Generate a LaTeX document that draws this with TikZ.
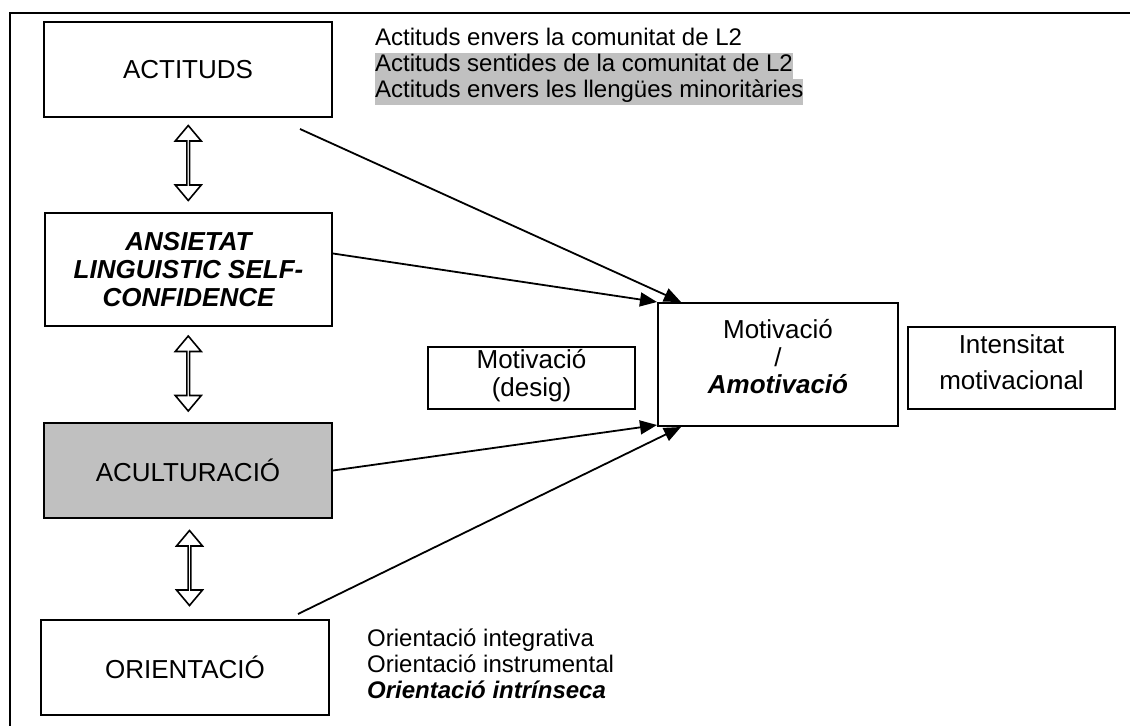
\documentclass[tikz,border=0pt]{standalone}
\usepackage{fontspec}
\setmainfont{Liberation Sans}
\usetikzlibrary{arrows.meta, shapes.arrows, calc}
\definecolor{boxgray}{RGB}{192,192,192}
\newcommand{\hlline}[1]{{\setlength{\fboxsep}{0pt}\colorbox{boxgray}{\strut #1}}}
\tikzstyle{box} = [draw, line width=2pt, align=center, inner sep=0pt, font=\fontsize{26}{29}\selectfont]
\tikzstyle{arrow} = [-{Triangle[length=17pt,width=14pt]}, line width=1.8pt]
\tikzstyle{updown} = [double arrow, draw, line width=1.6pt, rotate=90, minimum height=75pt, minimum width=26pt, double arrow head extend=6.5pt, double arrow tip angle=80, inner sep=0pt]
\tikzstyle{itemlist} = [anchor=north west, align=left, inner sep=0pt, font=\fontsize{24}{26}\selectfont]

\begin{document}
\begin{tikzpicture}[x=1pt, y=-1pt]
    \useasboundingbox (0,0) rectangle (1130,726);

    % Frame
    \draw[line width=1.6pt] (1130,13) -- (10,13) -- (10,726);

    % Left column
    \node[box, minimum width=288pt, minimum height=95pt] (act) at (188,69.5) {ACTITUDS};
    \node[box, minimum width=287pt, minimum height=113pt, font=\fontsize{26}{28}\selectfont\bfseries\itshape] (ans) at (188.5,269.5) {
        ANSIETAT\\
        LINGUISTIC SELF-\\
        CONFIDENCE
    };
    \node[box, fill=boxgray, minimum width=288pt, minimum height=95pt] (acu) at (188,470.5) {ACULTURACIÓ};
    \node[box, minimum width=288pt, minimum height=95pt] (ori) at (185,667.5) {ORIENTACIÓ};

    % Double arrows between the boxes
    \node[updown] (da1) at ($(act.south)!0.5!(ans.north)+(0,-2)$) {};
    \node[updown] (da2) at ($(ans.south)!0.5!(acu.north)+(0,-1)$) {};
    \node[updown] (da3) at ($(acu.south)!0.5!(ori.north)+(3,-1)$) {};

    % Lists
    \node[itemlist] (actlist) at (375,27) {
        \strut Actituds envers la comunitat de L2\\
        \hlline{Actituds sentides de la comunitat de L2}\\
        \hlline{Actituds envers les llengües minoritàries}
    };
    \node[itemlist] (orilist) at (367,628) {
        \strut Orientació integrativa\\
        \strut Orientació instrumental\\
        \strut\textbf{\textit{Orientació intrínseca}}
    };

    % Motivation boxes
    \node[box, minimum width=207pt, minimum height=62pt, font=\fontsize{26}{30}\selectfont] (desig) at (531.5,378) {Motivació\\[-2pt](desig)\\[-20pt]};
    \node[box, minimum width=240pt, minimum height=123pt, font=\fontsize{26}{27.5}\selectfont] (mot) at (778,364.5) {
        Motivació\\
        /\\
        \textbf{\textit{Amotivació}}\\[-12pt]
    };
    \node[box, minimum width=207pt, minimum height=82pt, font=\fontsize{26}{36}\selectfont] (ints) at (1011.5,367.5) {Intensitat\\motivacional\\[-26pt]};

    % Connectors
    \draw[arrow] ([xshift=112pt,yshift=-11pt]act.south) -- ([xshift=24pt]mot.north west);
    \draw[arrow] ([yshift=16pt]ans.east) -- (mot.north west);
    \draw[arrow] (acu.east) -- ([yshift=2pt]mot.south west);
    \draw[arrow] ([xshift=113pt,yshift=5pt]ori.north) -- ([xshift=24pt]mot.south west);
\end{tikzpicture}
\end{document}
